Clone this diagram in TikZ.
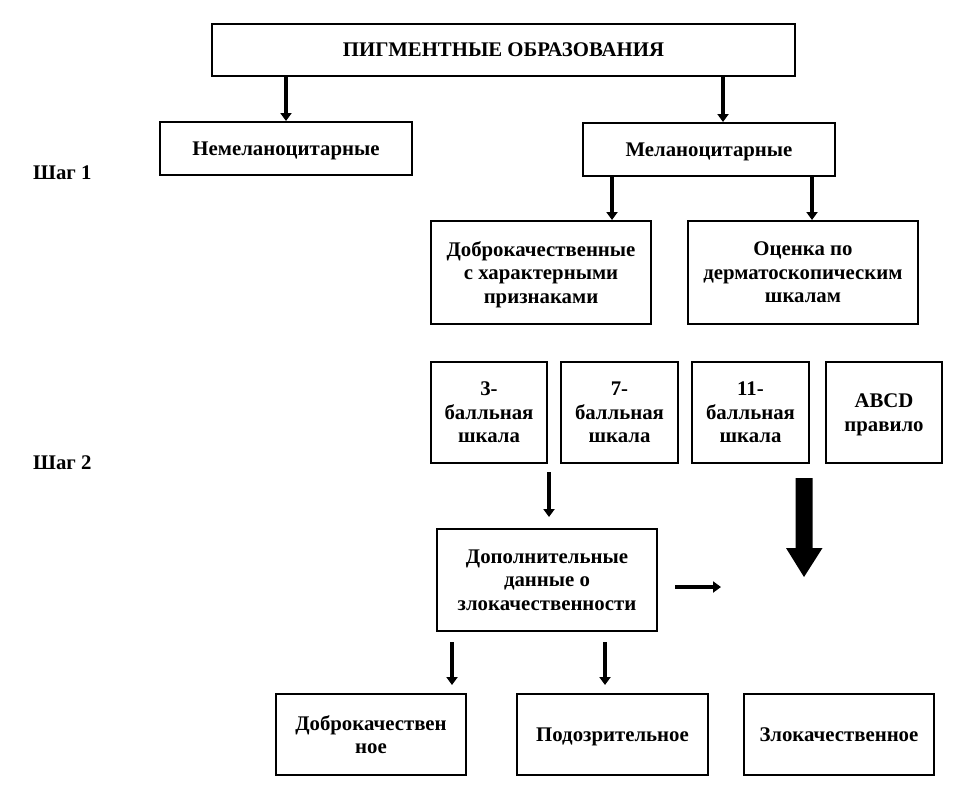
\documentclass[tikz,border=0pt]{standalone}
\usepackage{fontspec}
\setmainfont{Liberation Serif}
\usetikzlibrary{arrows.meta}
\tikzset{
  box/.style={draw=black, line width=2pt, align=center, font=\bfseries\fontsize{20.8}{23.5}\selectfont, inner sep=0pt, text depth=0pt},
  lbl/.style={font=\bfseries\fontsize{20.8}{23.5}\selectfont, anchor=west, inner sep=0pt},
  arr/.style={line width=4pt, -{Triangle[width=11pt,length=8pt]}},
}
\newcommand{\bx}[6]{\node[box, minimum width=#4-#2, minimum height=#5-#3] (#1) at ({(#2+#4)/2},{(#3+#5)/2}) {#6};}
\begin{document}
\begin{tikzpicture}[x=1pt,y=-1pt]
\useasboundingbox (0,0) rectangle (973,801);
\fill[white] (0,0) rectangle (973,801);
\bx{top}{212}{24}{795}{76}{ПИГМЕНТНЫЕ ОБРАЗОВАНИЯ}
\bx{nemel}{160}{122}{412}{175}{Немеланоцитарные}
\bx{mel}{583}{123}{835}{176}{Меланоцитарные}
\bx{dobr}{431}{221}{651}{324}{Доброкачественные\\с характерными\\признаками}
\bx{ocen}{688}{221}{918}{324}{Оценка по\\дерматоскопическим\\шкалам}
\bx{s3}{431}{362}{547}{463}{3-\\балльная\\шкала}
\bx{s7}{561}{362}{678}{463}{7-\\балльная\\шкала}
\bx{s11}{692}{362}{809}{463}{11-\\балльная\\шкала}
\bx{abcd}{826}{362}{942}{463}{ABCD\\правило}
\bx{dop}{437}{529}{657}{631}{Дополнительные\\данные о\\злокачественности}
\bx{ben}{276}{694}{466}{775}{Доброкачествен\\ное}
\bx{susp}{517}{694}{708}{775}{Подозрительное}
\bx{mal}{744}{694}{934}{775}{Злокачественное}
\node[lbl] (step1) at (33,173) {Шаг 1};
\node[lbl] (step2) at (33,463) {Шаг 2};
% arrows
\draw[arr] (top.south -| nemel.north) -- (nemel.north);
\draw[arr] ([xshift=14pt]top.south -| mel.north) -- ([xshift=14pt]mel.north);
\draw[arr] ([xshift=-97pt]mel.south) -- ([xshift=71pt]dobr.north);
\draw[arr] ([xshift=103pt]mel.south) -- ([xshift=9pt]ocen.north);
\draw[arr, shorten <=8pt, shorten >=11pt] ([xshift=60pt]s3.south) -- ([xshift=2pt]dop.north);
\draw[arr, shorten <=10pt, shorten >=8pt] ([xshift=-95pt]dop.south) -- ([xshift=81pt]ben.north);
\draw[arr, shorten <=10pt, shorten >=8pt] ([xshift=58pt]dop.south) -- ([xshift=-7.5pt]susp.north);
\coordinate (hend) at (721,587);
\draw[arr, line width=3.5pt, shorten <=17pt] (dop.east |- hend) -- (hend);
\coordinate (big) at (804,478);
\fill[black] (big) ++(-8.5,0) -- ++(17,0) -- ++(0,70) -- ++(10,0) -- (804,577) -- (786,548) -- ++(9.5,0) -- cycle;
\end{tikzpicture}
\end{document}
